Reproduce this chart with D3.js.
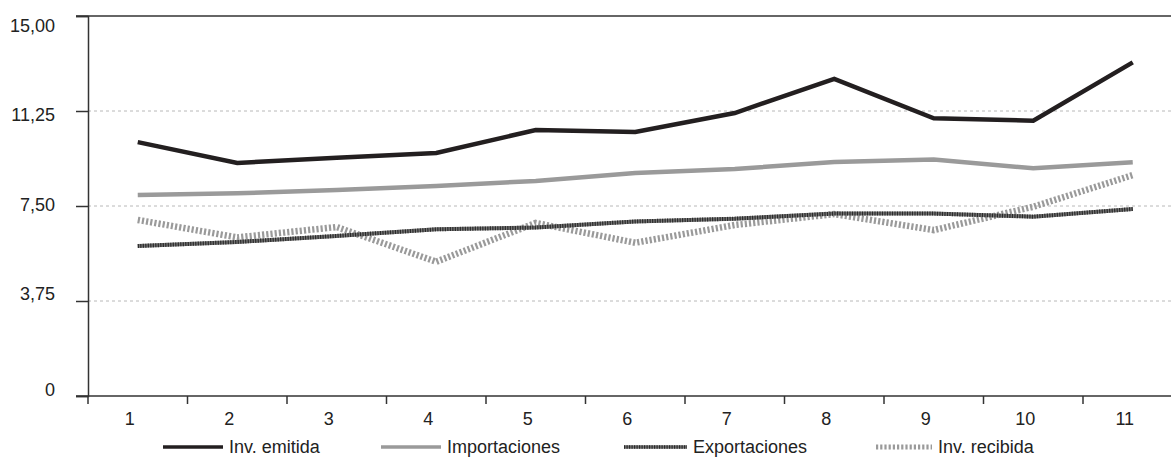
<!DOCTYPE html>
<html>
<head>
<meta charset="utf-8">
<script src="https://cdn.jsdelivr.net/npm/d3@7"></script>
<style>
  html, body { margin: 0; padding: 0; background: #fff; }
  svg { display: block; font-family: "Liberation Sans", Arial, sans-serif; }
</style>
</head>
<body>
<svg id="chart" width="1171" height="464"></svg>
<script>
const categories = [1, 2, 3, 4, 5, 6, 7, 8, 9, 10, 11];
const yTicks = [0, 3.75, 7.5, 11.25, 15];
const yTickLabels = ["0", "3,75", "7,50", "11,25", "15,00"];
const invEmitida    = [10.02, 9.20, 9.40, 9.59, 10.50, 10.42, 11.17, 12.52, 10.96, 10.87, 13.17];
const importaciones = [7.93, 8.00, 8.13, 8.29, 8.49, 8.80, 8.96, 9.24, 9.34, 8.99, 9.23];
const exportaciones = [5.92, 6.08, 6.32, 6.58, 6.65, 6.89, 7.00, 7.20, 7.20, 7.08, 7.38];
const invRecibida   = [6.95, 6.26, 6.67, 5.30, 6.83, 6.05, 6.75, 7.18, 6.55, 7.47, 8.72];
const seriesNames = ["Inv. emitida", "Importaciones", "Exportaciones", "Inv. recibida"];

(function () {
const svg = d3.select("#chart");
const mLeft = 88, mTop = 16, mBottom = 396;
const FS = 18;
const x = d3.scaleBand().domain(categories).range([mLeft, mLeft + 11 * 99.5]).padding(0);
const y = d3.scaleLinear().domain([0, 15]).range([mBottom, mTop]);
const cx = d => x(d) + x.bandwidth() / 2;

// gridlines
svg.append("g").selectAll("line").data([3.75, 7.5, 11.25]).join("line")
  .attr("x1", mLeft).attr("x2", 1171)
  .attr("y1", d => y(d)).attr("y2", d => y(d))
  .attr("stroke", "#b8b8b8").attr("stroke-width", 1).attr("stroke-dasharray", "3,3");

// top line
svg.append("line").attr("x1", mLeft - 12).attr("x2", 1171).attr("y1", y(15)).attr("y2", y(15))
  .attr("stroke", "#333").attr("stroke-width", 1.5);

// y axis
const yAxis = d3.axisLeft(y).tickValues(yTicks).tickSize(12).tickFormat("");
const gy = svg.append("g").attr("transform", `translate(${mLeft},0)`).call(yAxis);
gy.select(".domain").attr("stroke", "#333").attr("stroke-width", 1.5);
gy.selectAll(".tick line").attr("stroke", "#333").attr("stroke-width", 1.5);
const yLabelShift = {0: -6, 3.75: -7, 7.5: -1.5, 11.25: 4, 15: 10};
svg.append("g").selectAll("text").data(yTicks).join("text")
  .attr("x", 55).attr("y", d => y(d) + yLabelShift[d])
  .attr("dy", "0.35em").attr("text-anchor", "end")
  .attr("font-size", FS).attr("fill", "#222")
  .text((d, i) => yTickLabels[i]);

// x axis
svg.append("line").attr("x1", mLeft - 12).attr("x2", 1171).attr("y1", mBottom).attr("y2", mBottom)
  .attr("stroke", "#333").attr("stroke-width", 1.5);
svg.append("g").selectAll("line").data(categories).join("line")
  .attr("x1", d => x(d)).attr("x2", d => x(d))
  .attr("y1", mBottom).attr("y2", mBottom + 8)
  .attr("stroke", "#333").attr("stroke-width", 1.5);
svg.append("g").selectAll("text").data(categories).join("text")
  .attr("x", d => cx(d) - 8).attr("y", 419).attr("dy", "0.35em")
  .attr("text-anchor", "middle").attr("font-size", FS).attr("fill", "#222")
  .text(d => d);

// lines
const line = d3.line().x((d, i) => cx(categories[i])).y(d => y(d));

function drawSeries(g, data, kind, legend) {
  if (kind === 0) {
    g.append("path").attr("d", data).attr("fill", "none").attr("stroke", "#231f20").attr("stroke-width", legend ? 3.5 : 4.5);
  } else if (kind === 1) {
    g.append("path").attr("d", data).attr("fill", "none").attr("stroke", "#9a9a9a").attr("stroke-width", legend ? 3.5 : 4.5);
  } else if (kind === 2) {
    const w = legend ? 3.5 : 4;
    g.append("path").attr("d", data).attr("fill", "none").attr("stroke", "#777").attr("stroke-width", w);
    g.append("path").attr("d", data).attr("fill", "none").attr("stroke", "#2a2a2a").attr("stroke-width", w).attr("stroke-dasharray", "1.2,1.3");
  } else {
    g.append("path").attr("d", data).attr("fill", "none").attr("stroke", "#9a9a9a").attr("stroke-width", legend ? 5 : 6.5).attr("stroke-dasharray", "2.2,2");
  }
}

const allSeries = [invEmitida, importaciones, exportaciones, invRecibida];
const drawOrder = [1, 3, 2, 0];
drawOrder.forEach(k => drawSeries(svg.append("g"), line(allSeries[k]), k, false));

// legend
const legendX = [163, 381, 624, 876];
const legendLen = [60, 60, 63, 56];
const legendY = 447;
seriesNames.forEach((name, k) => {
  const g = svg.append("g");
  const lx = legendX[k];
  const d = `M${lx},${legendY}L${lx + legendLen[k]},${legendY}`;
  drawSeries(g, d, k, true);
  g.append("text").attr("x", lx + legendLen[k] + 6).attr("y", legendY).attr("dy", "0.35em")
    .attr("font-size", FS).attr("fill", "#222").text(name);
});
})();
</script>
</body>
</html>
